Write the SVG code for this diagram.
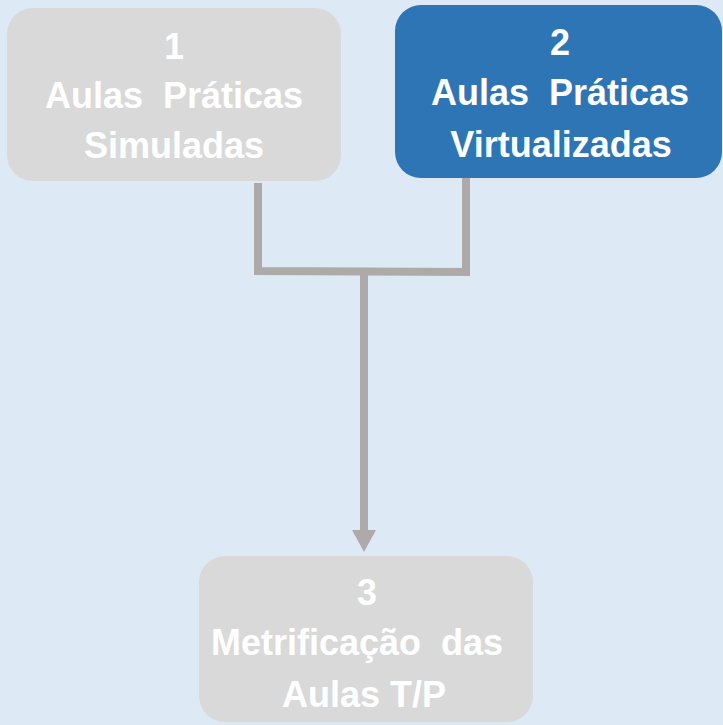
<svg xmlns="http://www.w3.org/2000/svg" width="723" height="725" viewBox="0 0 723 725">
<style>
.gray{fill:#d9d9d9}
.blue{fill:#2e75b6}
.t{font-family:"Liberation Sans",Arial,sans-serif;font-weight:bold;font-size:36px;fill:#ffffff;text-anchor:middle;white-space:pre}
.c{fill:none;stroke:#aeaaaa;stroke-width:8}
.ah{fill:#aeaaaa}
</style>
<rect width="723" height="725" fill="#dde9f5"/>
<g id="connectors">
<polyline class="c" points="258,183 258,271 466,272 466,178"/>
<line class="c" x1="364" y1="272" x2="364" y2="532"/>
<polygon class="ah" points="352,530 376,530 364,552"/>
</g>
<g id="node1">
<rect class="gray" x="7" y="8" width="334" height="173" rx="26"/>
<text class="t" x="174" y="59">1</text>
<text class="t" x="174" y="108" xml:space="preserve">Aulas  Práticas</text>
<text class="t" x="174" y="158">Simuladas</text>
</g>
<g id="node2">
<rect class="blue" x="395" y="5" width="327" height="173" rx="26"/>
<text class="t" x="560" y="55">2</text>
<text class="t" x="560" y="105" xml:space="preserve">Aulas  Práticas</text>
<text class="t" x="561" y="157">Virtualizadas</text>
</g>
<g id="node3">
<rect class="gray" x="199" y="556" width="334" height="166" rx="26"/>
<text class="t" x="367" y="605">3</text>
<text class="t" x="357" y="655" xml:space="preserve">Metrificação  das</text>
<text class="t" x="364" y="707">Aulas T/P</text>
</g>
</svg>
